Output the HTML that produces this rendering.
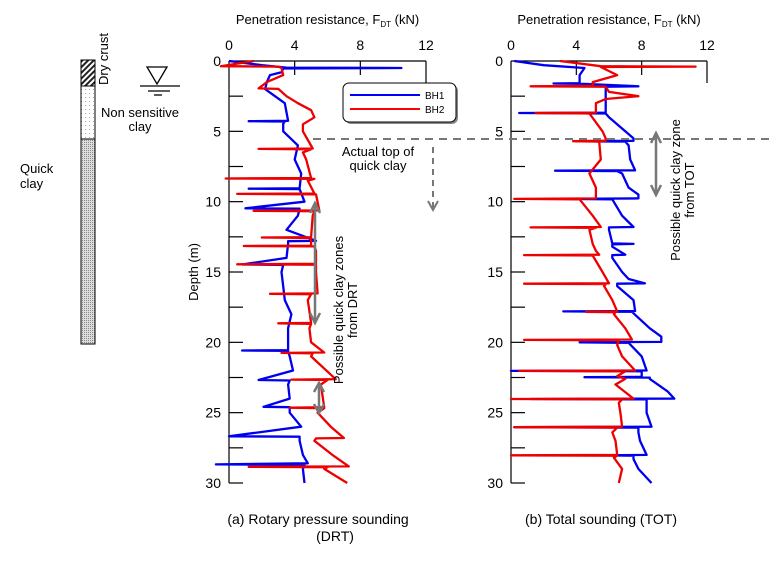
<!DOCTYPE html>
<html><head><meta charset="utf-8"><style>
body{margin:0;background:#fff;}
svg{display:block;font-family:"Liberation Sans",Arial,sans-serif;}
</style></head><body>
<svg id="c" width="770" height="566" viewBox="0 0 770 566">
<defs>
<pattern id="hatch" width="4" height="4" patternUnits="userSpaceOnUse" patternTransform="rotate(45)"><rect width="4" height="4" fill="#fff"/><rect width="2" height="4" fill="#222"/></pattern>
<pattern id="dots" width="4" height="4" patternUnits="userSpaceOnUse"><rect width="4" height="4" fill="#fff"/><rect x="1" y="1" width="1" height="1" fill="#aaa"/></pattern>
<pattern id="grey" width="2" height="2" patternUnits="userSpaceOnUse"><rect width="2" height="2" fill="#ddd"/><rect width="1" height="1" fill="#888"/></pattern>
</defs>
<g id="static">
<rect x="81" y="60" width="14" height="26" fill="url(#hatch)" stroke="#000"/>
<rect x="81" y="86" width="14" height="53" fill="url(#dots)" stroke="#000"/>
<rect x="81" y="139" width="14" height="205" fill="url(#grey)" stroke="#000"/>
<text transform="translate(108,85) rotate(-90)" font-size="13">Dry crust</text>
<text x="140" y="117" font-size="13" text-anchor="middle">Non sensitive</text>
<text x="140" y="131" font-size="13" text-anchor="middle">clay</text>
<text x="20" y="173" font-size="13">Quick</text>
<text x="20" y="188" font-size="13">clay</text>
<g stroke="#000" stroke-width="1.3" fill="none">
<path d="M147,67 L167,67 L157,84 Z"/><line x1="140" y1="86" x2="180" y2="86"/><line x1="148" y1="91" x2="170" y2="91"/><line x1="154" y1="95" x2="162" y2="95"/>
</g>
<text transform="translate(198,272) rotate(-90)" font-size="13" text-anchor="middle">Depth (m)</text>
<line x1="313" y1="139" x2="770" y2="139" stroke="#777" stroke-width="2" stroke-dasharray="8,6"/>
<g stroke="#777" stroke-width="2" fill="none">
<line x1="433" y1="147" x2="433" y2="208" stroke-dasharray="6,5"/>
<polyline points="428,201 433,210 438,201"/>
</g>
<text x="378" y="156" font-size="13" text-anchor="middle">Actual top of</text>
<text x="378" y="170" font-size="13" text-anchor="middle">quick clay</text>
<rect x="345" y="85" width="113" height="39" rx="6" fill="#888"/>
<rect x="343" y="83" width="113" height="39" rx="6" fill="#fff" stroke="#000"/>
<line x1="350" y1="95" x2="420" y2="95" stroke="#00f" stroke-width="2"/>
<text x="425" y="99" font-size="10">BH1</text>
<line x1="350" y1="109" x2="420" y2="109" stroke="#f00" stroke-width="2"/>
<text x="425" y="113" font-size="10">BH2</text>
<g stroke="#777" stroke-width="2.5" fill="none">
<line x1="315" y1="204" x2="315" y2="322"/><polyline points="310,213 315,203 320,213"/><polyline points="310,313 315,323 320,313"/>
</g>
<g stroke="#777" stroke-width="2.5" fill="none">
<line x1="319" y1="384" x2="319" y2="412"/><polyline points="314,392 319,383 324,392"/><polyline points="314,404 319,413 324,404"/>
</g>
<text transform="translate(343,310) rotate(-90)" font-size="13" text-anchor="middle">Possible quick clay zones</text>
<text transform="translate(357,310) rotate(-90)" font-size="13" text-anchor="middle">from DRT</text>
<g stroke="#777" stroke-width="2.5" fill="none">
<line x1="656" y1="134" x2="656" y2="194"/><polyline points="651,143 656,133 661,143"/><polyline points="651,185 656,195 661,185"/>
</g>
<text transform="translate(680,190) rotate(-90)" font-size="13" text-anchor="middle">Possible quick clay zone</text>
<text transform="translate(694,190) rotate(-90)" font-size="13" text-anchor="middle">from TOT</text>
<text x="318" y="524" font-size="14" text-anchor="middle">(a)  Rotary pressure sounding</text>
<text x="335" y="541" font-size="14" text-anchor="middle">(DRT)</text>
<text x="601" y="524" font-size="14" text-anchor="middle">(b)  Total sounding (TOT)</text>
</g>
</svg>
<script>
const xTicks=[0,4,8,12];
const yTicks=[0,5,10,15,20,25,30];
const drtBh1Depth=[0,0.3,0.47,0.5,0.53,0.8,1.0,1.5,2,2.5,3,4.25,4.28,4.31,4.45,5,6,7,8,9.05,9.08,9.11,10,10.47,10.5,11,12,12.78,12.81,13,14,14.47,14.5,15,16,17,18,19,20.55,20.58,20.61,21,22,22.68,22.71,23,24,24.58,24.61,25,26,26.68,26.71,27,28,28.6,28.68,28.71,29,30];
const drtBh1Val=[0,2,3.5,10.5,3.3,3.2,2.5,2.3,2.2,2.8,3.4,3.6,1.2,3.4,3.3,3.3,4.2,4.0,4.4,4.3,1.2,4.3,4.6,1.0,4.3,4.2,3.5,5.3,3.6,3.6,3.5,0.8,3.3,3.2,3.3,3.4,3.8,3.6,3.6,0.8,3.6,3.7,3.9,1.8,3.7,3.6,3.7,2.1,3.7,3.7,4.4,0,4.3,4.3,4.5,4.8,-0.8,4.6,4.5,4.6];
const drtBh2Depth=[0,0.37,0.4,0.5,1,1.5,1.95,1.98,2.5,3,3.5,4,4.5,5,6.22,6.25,6.28,6.5,7,8.32,8.35,8.38,8.5,9.42,9.45,9.48,10.62,10.65,10.68,11,12.52,12.55,12.58,13.12,13.15,13.18,13.5,14.42,14.45,14.48,15,16.52,16.55,16.58,17,18.62,18.65,18.68,19,20,20.72,20.75,20.78,21,22.62,22.65,22.68,23,24.62,24.65,24.68,25,26,26.8,26.83,27,28,28.82,28.85,28.88,29,30];
const drtBh2Val=[1.5,-0.5,3,3.2,3.3,2.3,1.8,3,3.5,4.2,5.0,5.2,4.5,4.5,5.1,1.8,5.0,4.5,4.7,5.0,-0.2,5.2,4.8,5.2,0.5,5.3,5.5,1.5,5.2,5.1,5.0,2.0,5.0,5.0,0.9,5.2,5.3,5.3,0.5,5.3,5.3,5.4,2.5,5.0,4.8,5.0,3.0,5.0,4.9,5.0,5.8,3.2,5.1,5.0,6.5,3.8,6.0,5.6,5.8,3.7,5.8,5.4,6.2,7.0,5.3,5.2,6.3,7.3,1.2,6.0,5.8,7.2];
const totBh1Depth=[0,0.3,0.5,1,1.3,1.57,1.6,1.63,1.8,1.83,3,3.67,3.7,3.73,4,5,5.5,5.67,5.7,5.73,6,7,7.77,7.8,7.83,8,9,9.5,9.77,9.8,9.83,11,11.8,11.83,12,12.97,13,13.03,13.2,13.77,13.8,14,15,15.5,15.8,15.83,16,17,17.77,17.8,17.83,19,19.6,19.97,20,20.03,21,22,22.03,22.06,22.45,22.48,22.51,22.6,23.5,24,24.03,24.06,24.3,25,26,26.03,26.06,26.4,27,28,28.03,28.06,28.3,29,30];
const totBh1Val=[0.2,2,4.5,4.2,4.2,4.2,2.6,4.5,7.8,5.8,5.8,5.8,0.5,5.8,6.0,7.0,7.5,7.5,4.0,7.0,7.2,7.3,7.6,2.7,6.5,6.8,7.2,7.8,7.8,3.2,6.2,6.8,7.5,6.0,6.0,6.2,7.5,6.2,6.2,7.0,6.2,6.2,6.8,7.2,8.2,6.5,6.5,7.5,7.6,3.2,7.4,8.5,9.2,9.2,4.2,7.2,8.0,8.3,0,8.0,8.0,4.5,8.5,8.5,9.6,10.0,1.2,8.3,8.3,8.3,8.6,0.2,7.8,7.8,7.9,8.3,6.0,7.5,7.5,7.8,8.6];
const totBh2Depth=[0,0.37,0.4,0.43,1,1.5,1.77,1.8,1.83,2.2,2.5,2.7,3,3.5,3.67,3.7,3.73,5,5.5,5.67,5.7,5.73,7,8,8.5,9,9.77,9.8,9.83,11,11.8,11.83,11.86,12,13,13.5,13.77,13.8,13.83,15,15.8,15.83,15.86,16,17,17.8,17.83,17.86,18,19,19.8,19.83,19.86,20.2,21,22,22.03,22.06,22.4,22.6,23,24,24.03,24.06,24.3,25,26,26.03,26.06,26.4,27,28,28.03,28.06,28.2,29,30];
const totBh2Val=[3,5.5,11.3,5.5,6.5,5.0,5.0,1.2,5.8,6.0,7.8,5.8,5.2,5.2,5.2,1.5,4.8,5.6,5.8,5.8,3.8,5.4,5.5,4.8,5.0,5.2,5.2,0.2,4.2,5.0,5.5,1.2,5.2,4.8,5.0,5.2,5.4,0.8,5.0,5.6,6.0,0.8,5.8,5.7,6.2,6.5,4.6,6.4,6.3,7.0,7.4,0.8,6.6,6.5,6.8,7.6,0.5,7.0,6.5,7.0,6.4,7.5,0,6.8,6.6,6.7,6.8,0.2,6.5,6.2,6.4,6.5,0,6.5,6.3,6.8,6.6];

const NS='http://www.w3.org/2000/svg';
const svg=document.getElementById('c');
function mk(tag,attrs){const e=document.createElementNS(NS,tag);for(const k in attrs)e.setAttribute(k,attrs[k]);return e;}
const yTop=61,yBot=483,dMax=30;
function yScale(d){return yTop+(d/dMax)*(yBot-yTop);}
function makeX(x0,x1){return v=>x0+(v/12)*(x1-x0);}
function panel(name,x0,x1,bh1d,bh1v,bh2d,bh2v){
  const xs=makeX(x0,x1);
  const g=mk('g',{});
  
  
  svg.appendChild(g);
  const ax=mk('path',{d:`M${x0},${yScale(0)} L${x0},${yScale(30)} M${x0},${yScale(0)} L${xs(12)},${yScale(0)}`,stroke:'#000','stroke-width':1.2,fill:'none'});
  
  
  g.appendChild(ax);
  xTicks.forEach(t=>{
    const len=t===12?22:(t===0?0:14);
    if(len){const l=mk('line',{x1:xs(t),x2:xs(t),y1:yScale(0),y2:yScale(0)+len,stroke:'#000','stroke-width':1.2});
    
    
    g.appendChild(l);}
    const tx=mk('text',{x:xs(t),y:50,'font-size':14,'text-anchor':'middle'});tx.textContent=t;
    
    
    g.appendChild(tx);
  });
  for(let d=2.5;d<=30;d+=2.5){
    const l=mk('line',{x1:x0,x2:x0+14,y1:yScale(d),y2:yScale(d),stroke:'#000','stroke-width':1.2});
    
    
    g.appendChild(l);
  }
  yTicks.forEach(t=>{
    const tx=mk('text',{x:x0-8,y:yScale(t)+5,'font-size':14,'text-anchor':'end'});tx.textContent=t;
    
    
    g.appendChild(tx);
  });
  const ti=mk('text',{x:(x0+xs(12))/2,y:24,'font-size':13,'text-anchor':'middle'});
  ti.innerHTML='Penetration resistance, F<tspan font-size="8" dy="3">DT</tspan><tspan dy="-3"> (kN)</tspan>';
  
  
  g.appendChild(ti);
  [[bh1d,bh1v,'#0000ee','series-bh1'],[bh2d,bh2v,'#ee0000','series-bh2']].forEach(([dd,vv,col,nm])=>{
    const pts=dd.map((d,i)=>xs(vv[i]).toFixed(1)+','+yScale(d).toFixed(1)).join(' ');
    const p=mk('polyline',{points:pts,fill:'none',stroke:col,'stroke-width':2.3,'stroke-linejoin':'round'});
    
    
    g.appendChild(p);
  });
}
panel('drt-panel',229,426,drtBh1Depth,drtBh1Val,drtBh2Depth,drtBh2Val);
panel('tot-panel',511,707,totBh1Depth,totBh1Val,totBh2Depth,totBh2Val);
svg.appendChild(document.getElementById('static'));
</script>
</body></html>
